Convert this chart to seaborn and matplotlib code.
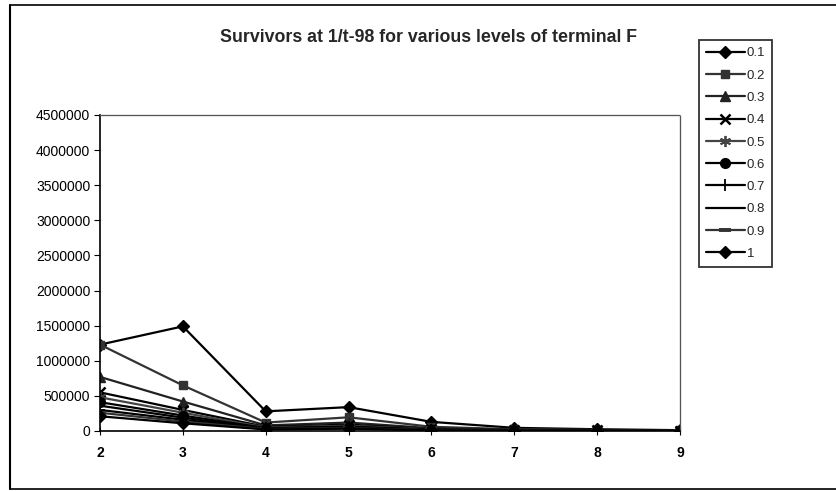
import matplotlib
matplotlib.use("Agg")
import matplotlib.pyplot as plt
import seaborn as sns
import pandas as pd
from matplotlib.lines import Line2D

# Years of survival (age classes) on the x axis
ages = [2, 3, 4, 5, 6, 7, 8, 9]

# Survivors for each level of terminal F
f_levels = ["0.1", "0.2", "0.3", "0.4", "0.5", "0.6", "0.7", "0.8", "0.9", "1"]
s_01 = [1230000, 1490000, 280000, 340000, 130000, 45000, 25000, 12000]
s_02 = [1230000, 650000, 120000, 195000, 60000, 25000, 15000, 8000]
s_03 = [770000, 420000, 80000, 120000, 40000, 18000, 10000, 6000]
s_04 = [550000, 300000, 60000, 90000, 30000, 14000, 8000, 5000]
s_05 = [480000, 260000, 50000, 75000, 25000, 12000, 7000, 4000]
s_06 = [410000, 220000, 42000, 62000, 21000, 10000, 6000, 3500]
s_07 = [360000, 190000, 36000, 54000, 18000, 9000, 5000, 3000]
s_08 = [300000, 160000, 31000, 46000, 15000, 7500, 4500, 2500]
s_09 = [260000, 135000, 27000, 40000, 13000, 6500, 4000, 2200]
s_10 = [210000, 110000, 22000, 33000, 11000, 5500, 3500, 2000]
series = [s_01, s_02, s_03, s_04, s_05, s_06, s_07, s_08, s_09, s_10]

y_ticks = [0, 500000, 1000000, 1500000, 2000000, 2500000, 3000000,
           3500000, 4000000, 4500000]

rows = []
for lvl, vals in zip(f_levels, series):
    for a, v in zip(ages, vals):
        rows.append({"age": a, "survivors": v, "F": lvl})
df = pd.DataFrame(rows)

sns.set_theme(style="white")
plt.rcParams["font.family"] = ["Liberation Sans", "DejaVu Sans"]

styles = {
    "0.1": dict(marker="D", color="black", ms=6, mew=1),
    "0.2": dict(marker="s", color="#333333", ms=6, mew=1),
    "0.3": dict(marker="^", color="#222222", ms=7, mew=1),
    "0.4": dict(marker="x", color="black", ms=7, mew=1.8),
    "0.5": dict(marker=(6, 2, 0), color="#444444", ms=8, mew=1.3),
    "0.6": dict(marker="o", color="black", ms=7, mew=1),
    "0.7": dict(marker="|", color="black", ms=9, mew=1.3),
    "0.8": dict(marker="_", color="black", ms=7, mew=1.3),
    "0.9": dict(marker="_", color="#333333", ms=9, mew=2.8),
    "1": dict(marker="D", color="black", ms=6, mew=1),
}

fig = plt.figure(figsize=(8.37, 4.91), dpi=100)
ax = fig.add_axes([100 / 837, 60 / 491, 580 / 837, 316 / 491])

palette = {k: v["color"] for k, v in styles.items()}
sns.lineplot(data=df, x="age", y="survivors", hue="F", hue_order=f_levels,
             palette=palette, linewidth=1.6, legend=False, ax=ax,
             estimator=None, sort=False)
for line, lvl in zip(ax.get_lines(), f_levels):
    st = styles[lvl]
    line.set_marker(st["marker"])
    line.set_markersize(st["ms"])
    line.set_markeredgewidth(st["mew"])
    line.set_markerfacecolor(st["color"])
    line.set_markeredgecolor(st["color"])

ax.set_xlim(2, 9)
ax.set_ylim(0, 4500000)
ax.set_xticks(ages)
ax.set_xticklabels([str(a) for a in ages], fontsize=10, fontweight="bold")
ax.set_yticks(y_ticks)
ax.set_yticklabels([str(t) for t in y_ticks], fontsize=10)
ax.set_xlabel("")
ax.set_ylabel("")
ax.tick_params(axis="y", direction="out", length=4, width=0.8, left=True,
               pad=3, colors="black")
ax.tick_params(axis="x", direction="inout", length=6, width=0.8,
               bottom=True, pad=8, colors="black")
for side in ["top", "right"]:
    ax.spines[side].set_color("#555555")
    ax.spines[side].set_linewidth(0.9)
    ax.spines[side].set_linestyle((0, (1, 0.6)))
for side in ["left", "bottom"]:
    ax.spines[side].set_color("black")
    ax.spines[side].set_linewidth(1.2)
ax.grid(False)

fig.text(429 / 837, 1 - 38 / 491, "Survivors at 1/t-98 for various levels of terminal F",
         ha="center", va="center", fontsize=12.8, fontweight="bold")

# Legend with one line per terminal F level
handles = [Line2D([0], [0], color=styles[l]["color"], lw=1.6,
                  marker=styles[l]["marker"], ms=styles[l]["ms"],
                  mew=styles[l]["mew"], mfc=styles[l]["color"],
                  mec=styles[l]["color"]) for l in f_levels]
leg = fig.legend(handles, f_levels, loc="upper left",
                 bbox_to_anchor=(699 / 837, 1 - 40 / 491),
                 frameon=True, fancybox=False, fontsize=9.5,
                 handlelength=2.9, handletextpad=0.15, labelspacing=0.76,
                 borderpad=0.55, borderaxespad=0)
leg.get_frame().set_edgecolor("black")
leg.get_frame().set_linewidth(1.3)

# Outer frame around the chart (left, top, bottom)
fig.add_artist(Line2D([10 / 837, 10 / 837], [1 - 5 / 491, 1 - 489 / 491],
                      transform=fig.transFigure, color="black", lw=1.5))
fig.add_artist(Line2D([10 / 837, 1.0], [1 - 5 / 491, 1 - 5 / 491],
                      transform=fig.transFigure, color="black", lw=1.2))
fig.add_artist(Line2D([10 / 837, 1.0], [1 - 489 / 491, 1 - 489 / 491],
                      transform=fig.transFigure, color="black", lw=1.2))

fig.savefig("out.png", dpi=100, facecolor="white")
